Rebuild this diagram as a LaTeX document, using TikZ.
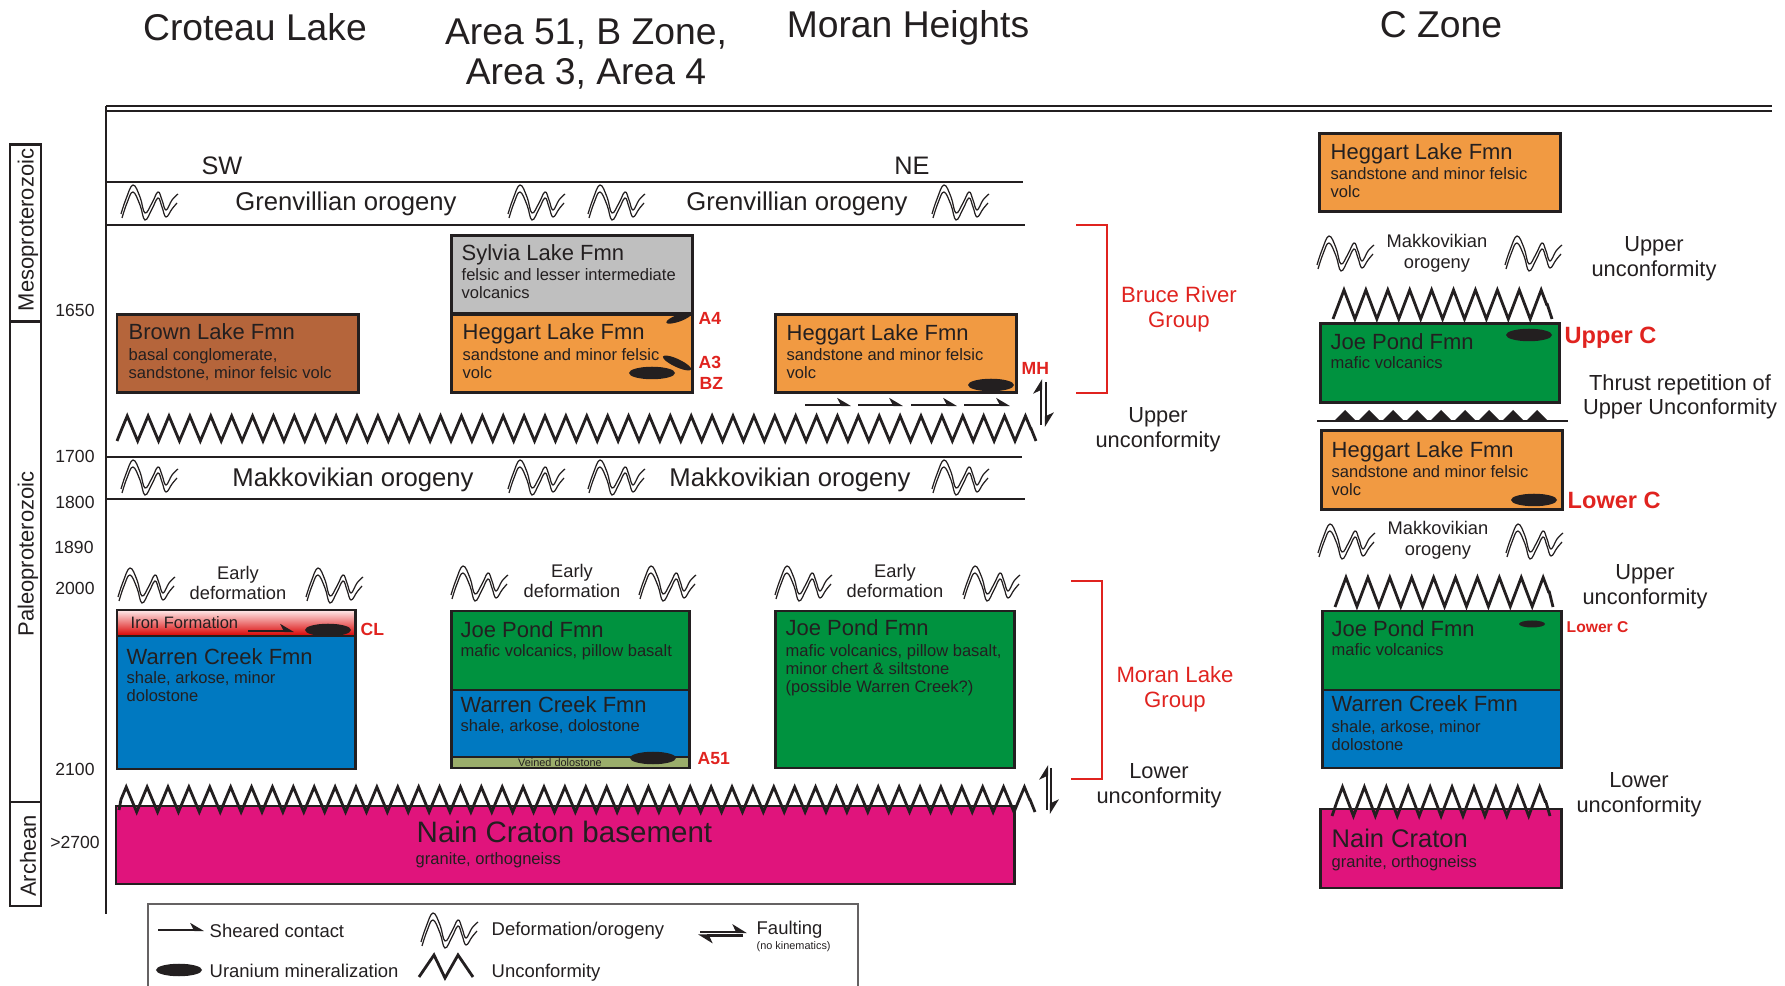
\documentclass[tikz,border=0pt]{standalone}
\usepackage{fontspec}
\setmainfont{Liberation Sans}
\usepackage{tikz}
\usetikzlibrary{arrows.meta,shapes.geometric,decorations.pathmorphing}
\usepackage{xcolor}
\definecolor{ink}{HTML}{231F20}
\definecolor{redtxt}{HTML}{E0231F}
\definecolor{brownfm}{HTML}{B5653B}
\definecolor{sylvia}{HTML}{BFBFBF}
\definecolor{heggart}{HTML}{F19A42}
\definecolor{joepond}{HTML}{00923F}
\definecolor{warren}{HTML}{0079C1}
\definecolor{nain}{HTML}{E0147C}
\definecolor{veined}{HTML}{9BAD6B}
\tikzstyle{fmn} = [draw=ink, line width=.85pt]
\tikzstyle{rule} = [draw=ink, line width=.7pt]
\tikzstyle{title} = [font=\fontsize{10.6}{11.4}\selectfont, align=center]
\tikzstyle{fname} = [anchor=base west, font=\fontsize{6.25}{7}\selectfont]
\tikzstyle{fbody} = [anchor=base west, align=left, font=\fontsize{4.7}{5.2}\selectfont]
\tikzstyle{orogeny} = [font=\fontsize{7.3}{8}\selectfont]
\tikzstyle{small} = [align=center, font=\fontsize{5.2}{5.9}\selectfont]
\tikzstyle{unc} = [align=center, font=\fontsize{6.2}{7}\selectfont]
\tikzstyle{year} = [font=\fontsize{5}{6}\selectfont]
\tikzstyle{era} = [rotate=90, font=\fontsize{6.25}{7}\selectfont]
\tikzstyle{site} = [text=redtxt, anchor=west, font=\bfseries\fontsize{5}{6}\selectfont]
\tikzstyle{group} = [text=redtxt, align=center, font=\fontsize{6.3}{7.1}\selectfont]
\tikzstyle{legend} = [anchor=west, font=\fontsize{5.25}{6}\selectfont]
\tikzstyle{ore} = [ellipse, fill=ink, minimum width=.46cm, minimum height=.125cm]
\tikzstyle{sheared} = [draw=ink, line width=.6pt, -{Stealth[harpoon,length=3.4pt,width=4pt,inset=1pt]}]
\tikzstyle{fault} = [draw=ink, line width=.8pt, -{Stealth[harpoon,length=3.6pt,width=4.4pt,inset=1pt]}]
\tikzstyle{bracket} = [draw=redtxt, line width=.7pt]
\tikzstyle{unconf} = [draw=ink, line width=.8pt, decoration={zigzag, segment length=5.94pt, amplitude=3.56pt}]
\tikzstyle{unconfc} = [draw=ink, line width=.8pt, decoration={zigzag, segment length=6.23pt, amplitude=4.13pt}]
\tikzset{fold/.pic={
	\draw[ink, line width=.35pt] plot[smooth, tension=.7] coordinates {(-1,29) (4,14) (11,0) (18,12) (23,28) (30,18) (36,7) (40,15) (44,25) (50,15) (56,9)};
	\draw[ink, line width=.35pt] plot[smooth, tension=.7] coordinates {(0,33) (5,18) (11,7) (18,20) (23,35) (30,24) (36,13) (40,22) (44,32) (50,24) (55,18)};
}}
\begin{document}
\begin{tikzpicture}[x=.01cm, y=-.01cm]
\tikzstyle{every node} = [inner sep=0pt, text=ink]
\useasboundingbox (0,0) rectangle (1785,986);
% column heads
\node[title] (croteau) at (255,27) {Croteau Lake};
\node[title] (area) at (586,54) {Area 51, B Zone,\\Area 3, Area 4};
\node[title] (moran) at (908,28) {Moran Heights};
\node[title] (czone) at (1441,25) {C Zone};
% frame
\draw[rule] (106,106) -- (1772,106);
\draw[ink, line width=.45pt] (106,111) -- (1772,111);
\draw[ink, line width=.75pt] (106,106) -- (106,914);
% time scale
\draw[fmn] (10,145) rectangle (41,322);
\draw[fmn] (10,322) rectangle (41,802);
\draw[fmn] (10,802) rectangle (41,906);
\node[era] (meso) at (28,230) {Mesoproterozoic};
\node[era] (paleo) at (28,554) {Paleoproterozoic};
\node[era] (arch) at (28,856) {Archean};
\node[year] (y1650) at (75,310) {1650};
\node[year] (y1700) at (75,456) {1700};
\node[year] (y1800) at (75,502) {1800};
\node[year] (y1890) at (74,547) {1890};
\node[year] (y2000) at (75,588) {2000};
\node[year] (y2100) at (75,769) {2100};
\node[year] (y2700) at (75,842) {>2700};
% orogeny bands
\node[orogeny, font=\fontsize{7.2}{8}\selectfont] (sw) at (222,166) {SW};
\node[orogeny, font=\fontsize{7.2}{8}\selectfont] (ne) at (912,166) {NE};
\draw[rule] (106,182) -- (1023,182);
\draw[rule] (106,225) -- (1025,225);
\draw[rule] (106,457) -- (1022,457);
\draw[rule] (106,499) -- (1025,499);
\node[orogeny] (gren1) at (346,204) {Grenvillian orogeny};
\node[orogeny] (gren2) at (797,204) {Grenvillian orogeny};
\node[orogeny] (makk1) at (353,479.5) {Makkovikian orogeny};
\node[orogeny] (makk2) at (790,479.5) {Makkovikian orogeny};
\pic at (122,185) {fold};
\pic at (509,185) {fold};
\pic at (589,185) {fold};
\pic at (933,185) {fold};
\pic at (122,460) {fold};
\pic at (509,460) {fold};
\pic at (589,460) {fold};
\pic at (933,460) {fold};
% Brown Lake and Sylvia Lake
\draw[fmn, fill=brownfm] (117,315) rectangle (358,393);
\node[fname] (brown) at (128,340) {Brown Lake Fmn};
\node[fbody] (brownb) at (128,378.5) {basal conglomerate,\\sandstone, minor felsic volc};
\draw[fmn, fill=sylvia] (451,236) rectangle (692,314);
\node[fname] (syl) at (461,261) {Sylvia Lake Fmn};
\node[fbody] (sylb) at (461,298.5) {felsic and lesser intermediate\\volcanics};
\draw[fmn, fill=heggart] (451,315) rectangle (692,393);
\node[fname] (heg1) at (462,340) {Heggart Lake Fmn};
\node[fbody] (heg1b) at (462,378.5) {sandstone and minor felsic\\volc};
\node[ore, minimum width=.27cm, minimum height=.07cm, rotate=20] (oA4) at (679,318) {};
\node[ore, minimum width=.31cm, minimum height=.08cm, rotate=-25] (oA3) at (677,363) {};
\node[ore] (oBZ) at (652,373) {};
\node[site] (A4) at (698,318) {A4};
\node[site] (A3) at (698,362) {A3};
\node[site] (BZ) at (699,383) {BZ};
% Moran Heights top
\draw[fmn, fill=heggart] (775,315) rectangle (1016,393);
\node[fname] (heg2) at (786,341) {Heggart Lake Fmn};
\node[fbody] (heg2b) at (786,378.5) {sandstone and minor felsic\\volc};
\node[ore] (oMH) at (991,385) {};
\node[site] (MH) at (1021,368) {MH};
\draw[sheared] (805,405) -- (851,405);
\draw[sheared] (858,405) -- (903,405);
\draw[sheared] (911,405) -- (957,405);
\draw[sheared] (964,405) -- (1010,405);
\draw[unconf] (117,441) -- (122,428.5) decorate {-- (1031,428.5)} -- (1036,441);
\draw[fault] (1041,425) -- (1041,379);
\draw[fault] (1046,382) -- (1046,427);
% early deformation
\pic at (119,568) {fold};
\pic at (307,568) {fold};
\pic at (452,566) {fold};
\pic at (640,566) {fold};
\pic at (776,566) {fold};
\pic at (964,566) {fold};
\node[small] (early1) at (238,583) {Early\\deformation};
\node[small] (early2) at (572,581) {Early\\deformation};
\node[small] (early3) at (895,581) {Early\\deformation};
% Croteau Lake
\draw[fmn, top color=red!8, bottom color=red!85!black] (117,610) rectangle (355,636);
\draw[fmn, fill=warren] (117,636) rectangle (355,769);
\node[anchor=base west, font=\fontsize{4.7}{5.2}\selectfont] (iron) at (130,629) {Iron Formation};
\draw[sheared] (248,631) -- (294,631);
\node[ore] (oCL) at (328,630) {};
\node[site] (CL) at (360,629) {CL};
\node[fname] (war1) at (126,665) {Warren Creek Fmn};
\node[fbody] (war1b) at (126,702) {shale, arkose, minor\\dolostone};
% Area 51
\draw[fmn, fill=joepond] (451,611) rectangle (689,690);
\draw[fmn, fill=warren] (451,690) rectangle (689,757);
\draw[fmn, fill=veined] (451,757) rectangle (689,768);
\node[fname] (joe1) at (460,638) {Joe Pond Fmn};
\node[fbody] (joe1b) at (460,656.5) {mafic volcanics, pillow basalt};
\node[fname] (war2) at (460,713) {Warren Creek Fmn};
\node[fbody] (war2b) at (460,731.5) {shale, arkose, dolostone};
\node[font=\fontsize{3.1}{4}\selectfont] (vein) at (560,763) {Veined dolostone};
\node[ore] (oA51) at (653,758) {};
\node[site] (A51) at (697,759) {A51};
% Moran Heights bottom
\draw[fmn, fill=joepond] (775,611) rectangle (1014,768);
\node[fname] (joe2) at (785,636) {Joe Pond Fmn};
\node[fbody] (joe2b) at (785,693) {mafic volcanics, pillow basalt,\\minor chert \& siltstone\\(possible Warren Creek?)};
% basement
\draw[fmn, fill=nain] (116,806) rectangle (1014,884);
\draw[unconf] (119,810) -- (121,799.5) decorate {-- (1030,799.5)} -- (1035,812);
\node[fname, font=\fontsize{8.4}{9}\selectfont] (base) at (416,843) {Nain Craton basement};
\node[fbody] (baseb) at (415,864) {granite, orthogneiss};
\draw[fault] (1047,810) -- (1047,765);
\draw[fault] (1051,768) -- (1051,814);
% groups
\draw[bracket] (1076,225) -- (1107,225) -- (1107,393) -- (1076,393);
\draw[bracket] (1071,581) -- (1102,581) -- (1102,779) -- (1071,779);
\node[group] (bruce) at (1179,309) {Bruce River\\Group};
\node[group] (morang) at (1175,689) {Moran Lake\\Group};
\node[unc] (uu1) at (1158,430) {Upper\\unconformity};
\node[unc] (lu1) at (1159,786) {Lower\\unconformity};
% C Zone
\draw[fmn, fill=heggart] (1319,134) rectangle (1560,212);
\node[fname] (heg3) at (1330,160) {Heggart Lake Fmn};
\node[fbody] (heg3b) at (1330,198) {sandstone and minor felsic\\volc};
\pic at (1318,236) {fold};
\pic at (1506,236) {fold};
\node[small] (makk3) at (1437,253) {Makkovikian\\orogeny};
\node[unc] (uu2) at (1654,259) {Upper\\unconformity};
\draw[unconfc] (1333,319) -- (1338.5,304.5) decorate {-- (1547.3,304.5)} -- (1552,319);
\draw[fmn, fill=joepond] (1320,324) rectangle (1559,403);
\node[fname] (joe3) at (1330,350) {Joe Pond Fmn};
\node[fbody] (joe3b) at (1330,369) {mafic volcanics};
\node[ore] (oUC) at (1529,335) {};
\node[site, font=\bfseries\fontsize{6.7}{8}\selectfont] (upc) at (1564,338) {Upper C};
\node[unc, font=\fontsize{6.2}{6.9}\selectfont] (thrust) at (1680,397) {Thrust repetition of\\Upper Unconformity};
\fill[ink] (1334,421) -- (1345,410) -- (1356,421)
	(1358,421) -- (1369,410) -- (1380,421)
	(1382,421) -- (1393,410) -- (1404,421)
	(1406,421) -- (1417,410) -- (1428,421)
	(1430,421) -- (1441,410) -- (1452,421)
	(1454,421) -- (1465,410) -- (1476,421)
	(1478,421) -- (1489,410) -- (1500,421)
	(1502,421) -- (1513,410) -- (1524,421)
	(1526,421) -- (1537,410) -- (1548,421);
\draw[rule] (1317,421) -- (1568,421);
\draw[fmn, fill=heggart] (1321,431) rectangle (1562,510);
\node[fname] (heg4) at (1331,458) {Heggart Lake Fmn};
\node[fbody] (heg4b) at (1331,496) {sandstone and minor felsic\\volc};
\node[ore] (oLC) at (1534,500) {};
\node[site, font=\bfseries\fontsize{6.7}{8}\selectfont] (lowc) at (1567,500) {Lower C};
\pic at (1319,524) {fold};
\pic at (1507,524) {fold};
\node[small] (makk4) at (1438,540) {Makkovikian\\orogeny};
\node[unc] (uu3) at (1645,587) {Upper\\unconformity};
\draw[unconfc] (1335,607) -- (1340.5,592) decorate {-- (1549.3,592)} -- (1553,607);
\draw[fmn, fill=joepond] (1322,611) rectangle (1561,690);
\draw[fmn, fill=warren] (1322,690) rectangle (1561,768);
\node[fname] (joe4) at (1331,637) {Joe Pond Fmn};
\node[fbody] (joe4b) at (1331,656) {mafic volcanics};
\node[ore, minimum width=.26cm, minimum height=.07cm] (oLC2) at (1532,624) {};
\node[site, font=\bfseries\fontsize{4.45}{5}\selectfont] (lowc2) at (1566,627) {Lower C};
\node[fname] (war3) at (1331,712) {Warren Creek Fmn};
\node[fbody] (war3b) at (1331,751) {shale, arkose, minor\\dolostone};
\node[unc] (lu2) at (1639,795) {Lower\\unconformity};
\draw[fmn, fill=nain] (1320,809) rectangle (1561,888);
\draw[unconfc] (1332,816) -- (1337,801.5) decorate {-- (1545.8,801.5)} -- (1550,816);
\node[fname, font=\fontsize{7.25}{8}\selectfont] (nain2) at (1331,847) {Nain Craton};
\node[fbody] (nain2b) at (1331,867) {granite, orthogneiss};
% legend
\draw[ink!70, line width=.4pt] (148,986) -- (148,904) -- (858,904) -- (858,986);
\draw[sheared] (158,930) -- (204,930);
\node[legend] (lshear) at (209,930.5) {Sheared contact};
\node[ore] (lore) at (179,970) {};
\node[legend] (lura) at (209,971) {Uranium mineralization};
\pic at (422,913) {fold};
\node[legend] (ldef) at (491,931) {Deformation/orogeny};
\draw[ink, line width=.8pt] (419,977) -- (434,955) -- (445,978) -- (458,955) -- (473,977);
\node[legend] (lunc) at (491,973) {Unconformity};
\draw[fault, line width=.7pt] (700,932) -- (747,932);
\draw[fault, line width=.7pt] (743,935.5) -- (698,935.5);
\node[legend] (lfault) at (756,930) {Faulting};
\node[anchor=west, font=\fontsize{3.1}{4}\selectfont] (lkin) at (756,947) {(no kinematics)};
\end{tikzpicture}
\end{document}
